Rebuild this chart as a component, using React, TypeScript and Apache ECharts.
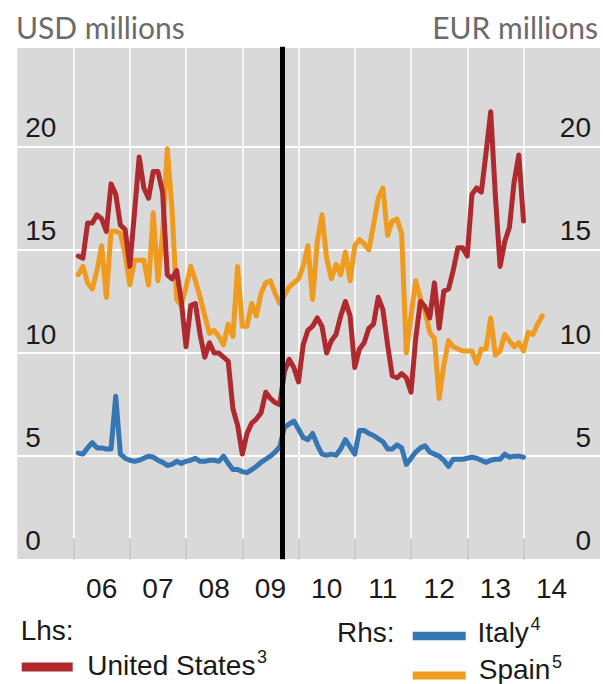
import React, { useEffect, useRef } from "react";
import * as echarts from "echarts";

// Monthly observations, first one = Jan 2006 (plotted at month end)
const startYear = 2006;

const unitedStates = [
  14.7, 14.6, 16.3, 16.3, 16.7, 16.5, 15.9, 18.2, 17.7, 16.2, 16.0, 14.2,
  16.8, 19.5, 18.0, 17.5, 18.8, 18.8, 17.8, 13.8, 13.6, 14.0, 12.5, 10.3,
  12.3, 12.4, 10.9, 9.8, 10.5, 10.0, 10.0, 9.8, 9.6, 7.3, 6.5, 5.1,
  6.1, 6.6, 6.8, 7.1, 8.1, 7.8, 7.6, 7.5, 9.1, 9.7, 9.3, 8.6,
  10.4, 11.1, 11.3, 11.7, 11.3, 10.0, 10.6, 10.9, 11.8, 12.5, 11.8, 9.3,
  10.2, 10.5, 11.2, 11.4, 12.7, 12.1, 10.4, 8.9, 8.8, 9.0, 8.8, 8.1,
  10.7, 12.5, 12.25, 11.7, 13.4, 11.2, 13.0, 13.1, 14.0, 15.1, 15.1, 14.7,
  17.7, 18.0, 17.8, 19.7, 21.7, 17.6, 14.2, 15.4, 16.1, 18.3, 19.6, 16.4,
];

const spain = [
  13.8, 14.2, 13.4, 13.1, 14.0, 15.2, 12.7, 15.9, 15.9, 15.8, 14.8, 13.3,
  14.5, 14.5, 14.5, 13.3, 16.8, 13.5, 15.8, 19.9, 17.0, 12.6, 12.3, 13.2,
  14.2, 13.5, 12.7, 11.8, 10.95, 11.1, 10.8, 10.4, 11.4, 10.8, 14.2, 11.3,
  11.3, 12.4, 11.8, 12.9, 13.4, 13.5, 12.9, 12.4, 12.8, 13.2, 13.4, 13.6,
  14.2, 15.2, 12.6, 15.4, 16.7, 14.6, 13.6, 14.3, 13.8, 14.9, 13.5, 15.2,
  15.5, 15.3, 15.0, 16.2, 17.5, 18.0, 15.7, 16.4, 16.5, 15.8, 10.0, 11.8,
  13.5, 12.65, 12.0, 11.0, 10.7, 7.8, 9.4, 10.6, 10.3, 10.2, 10.1, 10.1,
  10.1, 9.5, 10.2, 10.2, 11.7, 9.9, 10.1, 10.9, 10.6, 10.3, 10.5, 10.1,
  11.0, 10.9, 11.4, 11.8,
];

const italy = [
  5.15, 5.1, 5.4, 5.65, 5.4, 5.4, 5.35, 5.35, 7.9, 5.1, 4.9, 4.8,
  4.75, 4.8, 4.9, 5.0, 4.95, 4.8, 4.7, 4.55, 4.6, 4.75, 4.65, 4.75,
  4.8, 4.9, 4.75, 4.75, 4.8, 4.8, 4.75, 5.0, 4.65, 4.35, 4.35, 4.25,
  4.2, 4.35, 4.5, 4.7, 4.85, 5.0, 5.2, 5.45, 6.4, 6.55, 6.7, 6.3,
  5.9, 5.8, 6.1, 5.55, 5.1, 5.05, 5.1, 5.05, 5.35, 5.8, 5.45, 5.1,
  6.25, 6.25, 6.1, 6.0, 5.85, 5.7, 5.35, 5.35, 5.55, 5.4, 4.6, 4.9,
  5.2, 5.4, 5.5, 5.2, 5.1, 5.0, 4.8, 4.5, 4.85, 4.85, 4.85, 4.9,
  4.95, 4.9, 4.8, 4.7, 4.8, 4.85, 4.85, 5.1, 4.95, 5.0, 5.0, 4.95,
];

const yearTicks = [2006, 2007, 2008, 2009, 2010, 2011, 2012, 2013, 2014];
const yearLabels = ["06", "07", "08", "09", "10", "11", "12", "13", "14"];
const eventDate = 2009 + 8.5 / 12;

const xMin = 2005;
const xMax = 2015.36;
const yMax = 24.85;

const RED = "#ae2a2f";
const ORANGE = "#ef9b20";
const BLUE = "#3677b3";
const TXT = "#1a1a1a";
const NUMFONT = "'Liberation Sans', Arial, sans-serif";
const TITLEFONT = "Lato, 'Open Sans', sans-serif";

function toPairs(vals: number[]) {
  return vals.map((v, i) => [startYear + (i + 1) / 12, v]);
}

function txt(text: string, x: number, y: number, size: number, align = "left", font = NUMFONT, fill = TXT) {
  return {
    type: "text",
    x,
    y,
    silent: true,
    style: { text, fontSize: size, fontFamily: font, fill, align, verticalAlign: "middle" },
  };
}

export default function App() {
  const ref = useRef<HTMLDivElement>(null);

  useEffect(() => {
    if (!ref.current) return;
    const chart = echarts.init(ref.current, undefined, { renderer: "svg" });

    const yAxisBase = {
      type: "value" as const,
      min: 0,
      max: yMax,
      interval: 5,
      axisLine: { show: false },
      axisTick: { show: false },
    };
    const labelBase = {
      inside: true,
      showMaxLabel: false,
      fontSize: 28,
      color: TXT,
      fontFamily: NUMFONT,
      verticalAlign: "bottom" as const,
      padding: [0, 0, 5, 0],
    };

    chart.setOption({
      animation: false,
      backgroundColor: "#ffffff",
      grid: {
        left: 17.3,
        right: 3,
        top: 46.7,
        bottom: 124.7,
        show: true,
        backgroundColor: "#d9d9d9",
        borderWidth: 0,
      },
      xAxis: {
        type: "value",
        min: xMin,
        max: xMax,
        axisLine: { show: false },
        axisTick: {
          show: true,
          inside: true,
          length: 21,
          customValues: yearTicks,
          lineStyle: { color: "#000", width: 1.5 },
        },
        axisLabel: {
          customValues: yearTicks.map((y) => y + 0.5),
          formatter: (v: number) => yearLabels[yearTicks.indexOf(Math.floor(v))] ?? "",
          margin: 15,
          fontSize: 28,
          color: TXT,
          fontFamily: NUMFONT,
        },
        splitLine: { show: false },
      },
      yAxis: [
        {
          ...yAxisBase,
          position: "left",
          axisLabel: { ...labelBase, margin: 8 },
          splitLine: { show: true, lineStyle: { color: "#ffffff", width: 2 } },
        },
        {
          ...yAxisBase,
          position: "right",
          axisLabel: { ...labelBase, margin: 9 },
          splitLine: { show: false },
        },
      ],
      graphic: [
        txt("USD millions", 16, 26.7, 30, "left", TITLEFONT, "#6b6b6b"),
        txt("EUR millions", 598, 26.7, 30, "right", TITLEFONT, "#6b6b6b"),
        txt("Lhs:", 20.7, 630.8, 28),
        txt("Rhs:", 337, 632.5, 28),
        { type: "rect", silent: true, shape: { x: 21.7, y: 662.5, width: 51, height: 9 }, style: { fill: RED } },
        txt("United States", 87.3, 665.8, 28),
        txt("3", 257, 657, 18),
        { type: "rect", silent: true, shape: { x: 412.7, y: 631.7, width: 53, height: 8.5 }, style: { fill: BLUE } },
        txt("Italy", 477.5, 632.5, 28),
        txt("4", 530.5, 623.5, 18),
        { type: "rect", silent: true, shape: { x: 412.7, y: 671.5, width: 53, height: 8 }, style: { fill: ORANGE } },
        txt("Spain", 478.7, 669.8, 28),
        txt("5", 552, 661.5, 18),
      ],
      series: [
        {
          name: "Spain",
          type: "line",
          yAxisIndex: 1,
          data: toPairs(spain),
          showSymbol: false,
          symbol: "none",
          itemStyle: { color: ORANGE },
          lineStyle: { color: ORANGE, width: 5, join: "round", cap: "round" },
          z: 3,
          markLine: {
            silent: true,
            z: 1,
            symbol: ["none", "none"],
            label: { show: false },
            lineStyle: { color: "#ffffff", width: 1.5, type: "solid" },
            data: yearTicks.map((y) => ({ xAxis: y })),
          },
        },
        {
          name: "United States",
          type: "line",
          yAxisIndex: 0,
          data: toPairs(unitedStates),
          showSymbol: false,
          symbol: "none",
          itemStyle: { color: RED },
          lineStyle: { color: RED, width: 5, join: "round", cap: "round" },
          z: 4,
        },
        {
          name: "Italy",
          type: "line",
          yAxisIndex: 1,
          data: toPairs(italy),
          showSymbol: false,
          symbol: "none",
          itemStyle: { color: BLUE },
          lineStyle: { color: BLUE, width: 5, join: "round", cap: "round" },
          z: 5,
          markLine: {
            silent: true,
            z: 6,
            symbol: ["none", "none"],
            label: { show: false },
            lineStyle: { color: "#000000", width: 5, type: "solid" },
            data: [{ xAxis: eventDate }],
          },
        },
      ],
    });

    return () => chart.dispose();
  }, []);

  return (
    <div
      ref={ref}
      style={{ position: "absolute", left: 0, top: 0, width: 603, height: 684 }}
    />
  );
}
